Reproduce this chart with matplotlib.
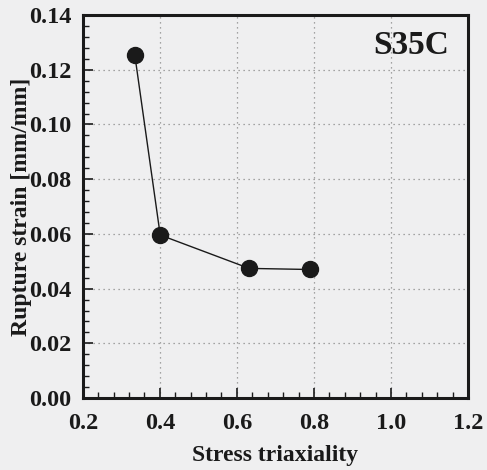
import matplotlib
matplotlib.use('Agg')
import matplotlib.pyplot as plt
from matplotlib.ticker import MultipleLocator, FormatStrFormatter

# Data
triaxiality = [0.335, 0.401, 0.632, 0.790]
rupture_strain = [0.1254, 0.0596, 0.0474, 0.0470]

x_ticks = [0.2, 0.4, 0.6, 0.8, 1.0, 1.2]
y_ticks = [0.00, 0.02, 0.04, 0.06, 0.08, 0.10, 0.12, 0.14]

bg = '#efeff0'
ink = '#1a1a1a'

plt.rcParams['font.family'] = ['Liberation Serif', 'DejaVu Serif']
plt.rcParams['font.weight'] = 'bold'

fig = plt.figure(figsize=(4.87, 4.70), dpi=100, facecolor=bg)
ax = fig.add_axes([0.170, 0.153, 0.791, 0.815])
ax.set_facecolor(bg)

ax.plot(triaxiality, rupture_strain, color=ink, linewidth=1.0,
        marker='o', markersize=11.5, markerfacecolor=ink, markeredgecolor=ink,
        zorder=3)

ax.set_xlim(0.2, 1.2)
ax.set_ylim(0.0, 0.14)
ax.set_xticks(x_ticks)
ax.set_yticks(y_ticks)
ax.xaxis.set_major_formatter(FormatStrFormatter('%.1f'))
ax.yaxis.set_major_formatter(FormatStrFormatter('%.2f'))
ax.xaxis.set_minor_locator(MultipleLocator(0.04))
ax.yaxis.set_minor_locator(MultipleLocator(0.004))

ax.tick_params(which='major', direction='in', length=7, width=1.2,
               labelsize=17.5, colors=ink)
ax.tick_params(axis='x', which='major', pad=11)
ax.tick_params(axis='y', which='major', pad=8)
ax.tick_params(which='minor', direction='in', length=4, width=1.0, colors=ink)
for lab in ax.get_xticklabels() + ax.get_yticklabels():
    lab.set_fontweight('bold')

ax.grid(which='major', linestyle=(0, (1, 3)), color='#8a8a8a', linewidth=0.9)

for s in ax.spines.values():
    s.set_linewidth(2.2)
    s.set_color(ink)

ax.set_xlabel('Stress triaxiality', fontsize=17, fontweight='bold',
              color=ink, labelpad=8)
ax.set_ylabel('Rupture strain [mm/mm]', fontsize=17, fontweight='bold',
              color=ink)
ax.yaxis.set_label_coords(-0.132, 0.5)

ax.text(0.95, 0.92, 'S35C', transform=ax.transAxes, ha='right', va='center',
        fontsize=24, fontweight='bold', color=ink)

fig.savefig('out.png', dpi=100, facecolor=bg)
